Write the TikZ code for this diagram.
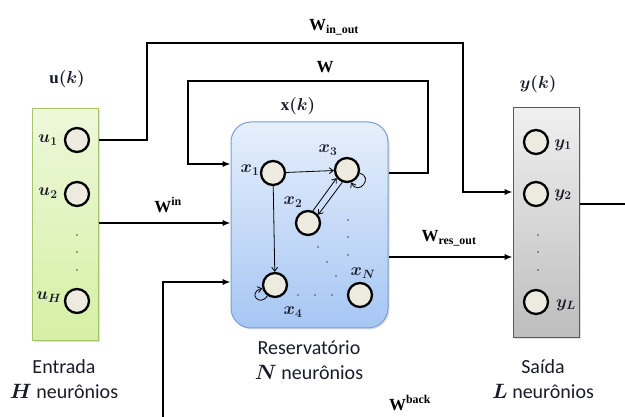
\documentclass[tikz,border=0pt]{standalone}
\usepackage{amsmath}
\usepackage[no-math]{fontspec}
\setmainfont{Carlito}
\newfontfamily\lmbold{Liberation Serif}
\newcommand{\bt}[1]{\text{\lmbold\bfseries #1}}
\usepackage{bm}
\usetikzlibrary{arrows.meta,calc,shadows}
\definecolor{gtop}{HTML}{EDF8DA}
\definecolor{gbot}{HTML}{D5F0A4}
\definecolor{gbrd}{HTML}{A3C66A}
\definecolor{btop}{HTML}{E6EFFC}
\definecolor{bbot}{HTML}{A6C6F3}
\definecolor{bbrd}{HTML}{7A9FD2}
\definecolor{ktop}{HTML}{F0F0F0}
\definecolor{kbot}{HTML}{BDBDBD}
\definecolor{kbrd}{HTML}{5A5A5A}
\definecolor{nfill}{HTML}{EDEADF}
\definecolor{txtc}{HTML}{1A1A2A}
\begin{document}
\begin{tikzpicture}[x=1pt,y=-1pt,
  neuron/.style={circle,draw=black,line width=2.3pt,fill=nfill,minimum size=24pt,inner sep=0pt},
  conn/.style={line width=2.2pt,-{Latex[length=8pt,width=6.5pt]},line join=miter},
  plain/.style={line width=2.2pt},
  sarrow/.style={line width=0.8pt,-{Straight Barb[length=4pt,width=6pt]}},
  mlab/.style={font=\fontsize{17}{19}\selectfont\boldmath,text=txtc,inner sep=0pt},
  wlab/.style={font=\fontsize{17}{19}\selectfont\boldmath,inner sep=0pt},
  txt/.style={font=\fontsize{20}{25}\selectfont\boldmath,align=center,text=txtc,inner sep=0pt},
  dotm/.style={circle,fill=black!70,inner sep=0pt,minimum size=1.8pt}]
\useasboundingbox (0,0) rectangle (625,417);
% boxes
\node[draw=gbrd,line width=1pt,top color=gtop,bottom color=gbot,minimum width=66pt,minimum height=232pt,inner sep=0pt,drop shadow={opacity=0.25,shadow xshift=1.5pt,shadow yshift=-1.5pt}] (inb) at (65,225) {};
\node[draw=bbrd,line width=1pt,top color=btop,bottom color=bbot,rounded corners=20pt,minimum width=157pt,minimum height=206pt,inner sep=0pt,drop shadow={opacity=0.25,shadow xshift=1.5pt,shadow yshift=-1.5pt}] (res) at (309.5,225) {};
\node[draw=kbrd,line width=1pt,top color=ktop,bottom color=kbot,minimum width=66pt,minimum height=230pt,inner sep=0pt,drop shadow={opacity=0.25,shadow xshift=1.5pt,shadow yshift=-1.5pt}] (outb) at (546,223) {};
% input neurons
\node[neuron] (u1) at (77,140) {};
\node[neuron] (u2) at (77,194) {};
\node[neuron] (uH) at (77,301) {};
\node[dotm] (ud1) at (77,235) {};
\node[dotm] (ud2) at (77,252) {};
\node[dotm] (ud3) at (77,270) {};
\node[mlab] (lu1) at (48,140) {$u_1$};
\node[mlab] (lu2) at (48,193) {$u_2$};
\node[mlab] (luH) at (49,297) {$u_H$};
% output neurons
\node[neuron] (y1) at (536,142) {};
\node[neuron] (y2) at (536,194) {};
\node[neuron] (yL) at (536,302) {};
\node[dotm] (yd1) at (538,235) {};
\node[dotm] (yd2) at (538,252) {};
\node[dotm] (yd3) at (538,270) {};
\node[mlab] (ly1) at (563,145) {$y_1$};
\node[mlab] (ly2) at (563,195) {$y_2$};
\node[mlab] (lyL) at (566,305) {$y_L$};
% reservoir neurons
\node[neuron] (x1) at (273,173) {};
\node[neuron] (x3) at (347,170) {};
\node[neuron] (x2) at (308,223) {};
\node[neuron] (x4) at (275,285) {};
\node[neuron] (xN) at (360,295) {};
\node[mlab] (lx1) at (250,170) {$x_1$};
\node[mlab] (lx3) at (328,150) {$x_3$};
\node[mlab] (lx2) at (293,202) {$x_2$};
\node[mlab] (lx4) at (293,312) {$x_4$};
\node[mlab] (lxN) at (363,273) {$x_N$};
\foreach \p [count=\i] in {(348,220),(348,237),(348,255),(318,247),(327,262),(336,276),(298,295),(315,295),(332,295)}
  \node[dotm] (rd\i) at \p {};
\draw[sarrow] (x1) -- (x3);
\draw[sarrow] (x1) -- (x4);
\draw[sarrow] (x2.68) -- (x3.218);
\draw[sarrow] (x3.249) -- (x2.39);
\draw[sarrow] (x3.-15) .. controls +(14,3) and +(8,14) .. (x3.-72);
\draw[sarrow] (x4.235) .. controls +(-8,12) and +(-15,4) .. (x4.195);
% titles
\node[mlab] (uk) at (67,79) {$\bt{u}(k)$};
\node[mlab] (xk) at (298,106) {$\bt{x}(k)$};
\node[mlab] (yk) at (538,84) {$y(k)$};
\node[txt] (tin) at (64,379) {Entrada\\$H$ neurônios};
\node[txt] (tres) at (309,360) {Reservatório\\$N$ neurônios};
\node[txt] (tout) at (543,379) {Saída\\$L$ neurônios};
% connectors
\coordinate (endout) at (625,204);
\coordinate (backstart) at (163,417);
\draw[conn] (inb.east |- u1) -- (147,140) -- (147,43) -- (463,43) -- (463,192) -- (outb.west |- 0,192);
\draw[conn] (res.east |- 0,173) -- (428,173) -- (428,81) -- (188,81) -- (188,164) -- (res.west |- 0,164);
\draw[conn] (inb.east |- 0,223) -- (res.west |- 0,223);
\draw[conn] (backstart) -- (163,282) -- (res.west |- 0,282);
\draw[conn] (res.east |- 0,257) -- (outb.west |- 0,257);
\draw[plain] (outb.east |- endout) -- (endout);
% weight labels
\node[wlab] (win) at (168,205) {$\bt{W}^{\bt{in}}$};
\node[wlab] (wio) at (334,27) {$\bt{W}_{\bt{in\_out}}$};
\node[wlab] (ww) at (325,67) {$\bt{W}$};
\node[wlab] (wro) at (449,238) {$\bt{W}_{\bt{res\_out}}$};
\node[wlab] (wb) at (410,403) {$\bt{W}^{\bt{back}}$};
\end{tikzpicture}
\end{document}
